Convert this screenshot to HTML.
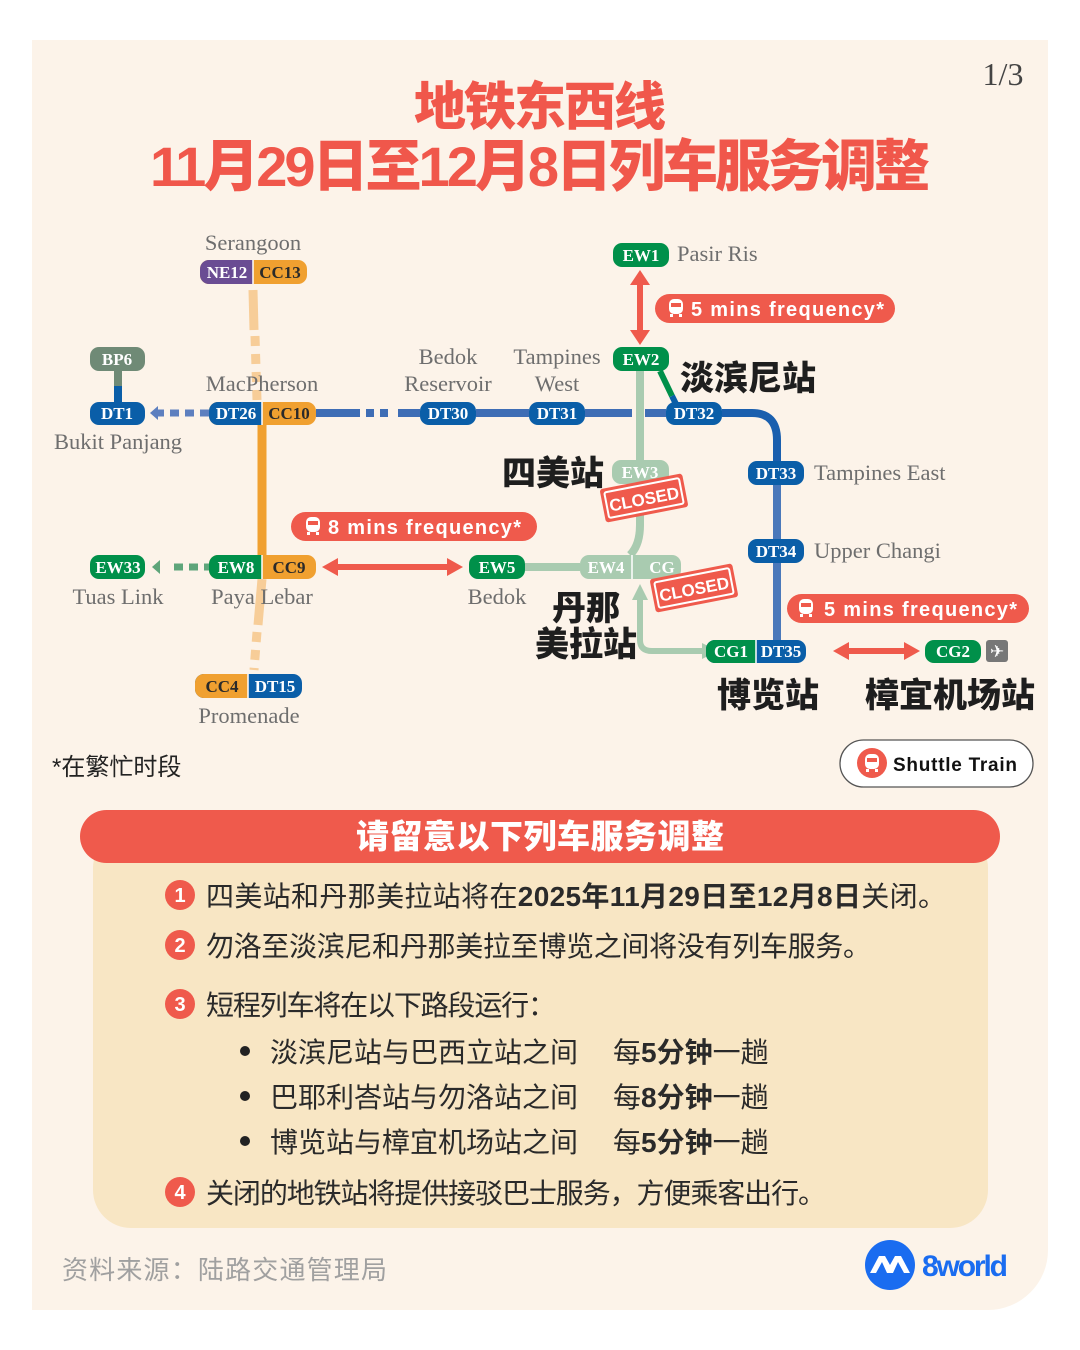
<!DOCTYPE html>
<html><head><meta charset="utf-8"><style>
html,body{margin:0;padding:0;background:#fff}
svg{display:block}
.cn{font-family:"Liberation Sans","Noto Sans CJK SC",sans-serif}
.sr{font-family:"Liberation Serif","DejaVu Serif",serif}
.b{font-family:"Liberation Serif",serif;font-weight:bold;font-size:17px;fill:#fff;text-anchor:middle}
.nm{font-family:"Liberation Serif",serif;font-size:22.5px;fill:#6e6e6e}
</style></head><body>
<svg width="1080" height="1350" viewBox="0 0 1080 1350" xmlns="http://www.w3.org/2000/svg">
<path d="M32 40 H1048 V1250 A60 60 0 0 1 988 1310 H32 Z" fill="#fcf3e9"/>
<text x="1003" y="85" class="sr" font-size="32" fill="#444" text-anchor="middle" font-weight="normal">1/3</text>
<g class="cn" font-weight="900" fill="#f0574b" text-anchor="middle">
<text x="540" y="125" font-size="52" textLength="252">地铁东西线</text>
<text x="540" y="186" font-size="56" textLength="780">11月29日至12月8日列车服务调整</text>
</g>

<g fill="none" stroke-linecap="butt">
<path d="M253 290 L254 330" stroke="#f7cd98" stroke-width="9"/>
<path d="M255 336 L257 400" stroke="#f7cd98" stroke-width="9" stroke-dasharray="10 8"/>
<path d="M262 425 L262 555" stroke="#f0a030" stroke-width="9"/>
<path d="M262 579 L258 625" stroke="#f7cd98" stroke-width="9"/>
<path d="M257 632 L254 670" stroke="#f7cd98" stroke-width="9" stroke-dasharray="10 8"/>
<line x1="118" y1="371" x2="118" y2="386" stroke="#6f8a76" stroke-width="8"/>
<line x1="118" y1="386" x2="118" y2="402" stroke="#0a5ea8" stroke-width="8"/>
<path d="M155 413 L209 413" stroke="#5d7fbf" stroke-width="7" stroke-dasharray="9 6"/>
<path d="M316 413 L360 413" stroke="#3e6db5" stroke-width="8"/>
<path d="M366 413 L394 413" stroke="#3e6db5" stroke-width="8" stroke-dasharray="8 6"/>
<path d="M398 413 L420 413 M476 413 L529 413 M585 413 L632 413 M645 413 L666 413" stroke="#3e6db5" stroke-width="8"/>
<path d="M722 413 L752 413 Q777 413 777 440 L777 461" stroke="#1a5fae" stroke-width="8"/>
<path d="M777 485 L777 539 M777 563 L777 640" stroke="#4a78ba" stroke-width="8"/>
<path d="M660 371 L672 396" stroke="#00904a" stroke-width="6"/>
<path d="M672 396 L676 404" stroke="#0a5ea8" stroke-width="6"/>
<path d="M640 371 L640 460 M640 484 L640 525 Q640 545 630 555" stroke="#a9cbb0" stroke-width="8"/>
<path d="M525 567 L580 567" stroke="#a9cbb0" stroke-width="8"/>
<path d="M640 600 L640 640 Q640 651 652 651 L705 651" stroke="#a9cbb0" stroke-width="6"/>
<path d="M174 567 L209 567" stroke="#5ea57a" stroke-width="7" stroke-dasharray="9 6"/>
</g>
<polygon points="640,584 632,600 648,600" fill="#a9cbb0"/>
<polygon points="718,651 702,643 702,659" fill="#a9cbb0"/>
<polygon points="150,413 158,406 158,420" fill="#5d7fbf"/>
<polygon points="152,567 160,560 160,574" fill="#5ea57a"/>
<g fill="#ef5a4c" stroke="none">
<rect x="637" y="282" width="6" height="52"/>
<polygon points="640,270 630,285 650,285"/><polygon points="640,345 630,330 650,330"/>
<rect x="335" y="564" width="116" height="6"/>
<polygon points="322,567 338,558 338,576"/><polygon points="463,567 447,558 447,576"/>
<rect x="845" y="648" width="62" height="6"/>
<polygon points="833,651 849,642 849,660"/><polygon points="920,651 904,642 904,660"/>
</g>

<g>
<rect x="200" y="260" width="107" height="24" rx="9" fill="#f0a030"/><path d="M209 260 H253 V284 H209 A9 9 0 0 1 200 275 V269 A9 9 0 0 1 209 260Z" fill="#6a4c93"/>
<line x1="253" y1="260" x2="253" y2="284" stroke="#fff" stroke-width="1.5"/>
<text x="227" y="278" class="b">NE12</text><text x="280" y="278" class="b" style="fill:#2a2a2a">CC13</text>
<rect x="90" y="347" width="55" height="24" rx="9" fill="#6f8a76"/><text x="117" y="365" class="b">BP6</text>
<rect x="90" y="402" width="55" height="23" rx="9" fill="#0a5ea8"/><text x="117" y="419" class="b">DT1</text>
<rect x="209" y="402" width="107" height="23" rx="9" fill="#f0a030"/><path d="M218 402 H262 V425 H218 A9 9 0 0 1 209 416 V411 A9 9 0 0 1 218 402Z" fill="#0a5ea8"/>
<line x1="262" y1="402" x2="262" y2="425" stroke="#fff" stroke-width="1.5"/>
<text x="236" y="419" class="b">DT26</text><text x="289" y="419" class="b" style="fill:#2a2a2a">CC10</text>
<rect x="420" y="402" width="56" height="23" rx="9" fill="#0a5ea8"/><text x="448" y="419" class="b">DT30</text>
<rect x="529" y="402" width="56" height="23" rx="9" fill="#0a5ea8"/><text x="557" y="419" class="b">DT31</text>
<rect x="666" y="402" width="56" height="23" rx="9" fill="#0a5ea8"/><text x="694" y="419" class="b">DT32</text>
<rect x="613" y="243" width="56" height="24" rx="9" fill="#00904a"/><text x="641" y="261" class="b">EW1</text>
<rect x="613" y="347" width="56" height="24" rx="9" fill="#00904a"/><text x="641" y="365" class="b">EW2</text>
<rect x="612" y="460" width="57" height="24" rx="9" fill="#a9cbb0"/><text x="640" y="478" class="b">EW3</text>
<rect x="748" y="461" width="56" height="24" rx="9" fill="#0a5ea8"/><text x="776" y="479" class="b">DT33</text>
<rect x="748" y="539" width="56" height="24" rx="9" fill="#0a5ea8"/><text x="776" y="557" class="b">DT34</text>
<rect x="90" y="555" width="55" height="24" rx="9" fill="#00904a"/><text x="118" y="573" class="b">EW33</text>
<rect x="209" y="555" width="107" height="24" rx="9" fill="#f0a030"/><path d="M218 555 H262 V579 H218 A9 9 0 0 1 209 570 V564 A9 9 0 0 1 218 555Z" fill="#00904a"/>
<line x1="262" y1="555" x2="262" y2="579" stroke="#fff" stroke-width="1.5"/>
<text x="236" y="573" class="b">EW8</text><text x="289" y="573" class="b" style="fill:#2a2a2a">CC9</text>
<rect x="469" y="555" width="56" height="24" rx="9" fill="#00904a"/><text x="497" y="573" class="b">EW5</text>
<rect x="580" y="555" width="101" height="24" rx="9" fill="#a9cbb0"/><line x1="632" y1="555" x2="632" y2="579" stroke="#fff" stroke-width="1.5"/>
<text x="606" y="573" class="b">EW4</text><text x="662" y="573" class="b">CG</text>
<rect x="706" y="640" width="100" height="23" rx="9" fill="#0a5ea8"/><path d="M715 640 H756 V663 H715 A9 9 0 0 1 706 654 V649 A9 9 0 0 1 715 640Z" fill="#00904a"/>
<line x1="756" y1="640" x2="756" y2="663" stroke="#fff" stroke-width="1.5"/>
<text x="731" y="657" class="b">CG1</text><text x="781" y="657" class="b">DT35</text>
<rect x="925" y="640" width="56" height="23" rx="9" fill="#00904a"/><text x="953" y="657" class="b">CG2</text>
<rect x="986" y="640" width="22" height="22" rx="3" fill="#777"/><text x="997" y="657" font-size="17" fill="#fff" text-anchor="middle" font-family="DejaVu Sans">✈</text>
<rect x="195" y="674" width="107" height="24" rx="9" fill="#0a5ea8"/><path d="M204 674 H248 V698 H204 A9 9 0 0 1 195 689 V683 A9 9 0 0 1 204 674Z" fill="#f0a030"/>
<line x1="248" y1="674" x2="248" y2="698" stroke="#fff" stroke-width="1.5"/>
<text x="222" y="692" class="b" style="fill:#2a2a2a">CC4</text><text x="275" y="692" class="b">DT15</text>
</g>

<g class="nm">
<text x="253" y="250" text-anchor="middle">Serangoon</text>
<text x="262" y="391" text-anchor="middle">MacPherson</text>
<text x="118" y="449" text-anchor="middle">Bukit Panjang</text>
<text x="448" y="364" text-anchor="middle">Bedok</text>
<text x="448" y="391" text-anchor="middle">Reservoir</text>
<text x="557" y="364" text-anchor="middle">Tampines</text>
<text x="557" y="391" text-anchor="middle">West</text>
<text x="677" y="261">Pasir Ris</text>
<text x="814" y="480">Tampines East</text>
<text x="814" y="558">Upper Changi</text>
<text x="118" y="604" text-anchor="middle">Tuas Link</text>
<text x="262" y="604" text-anchor="middle">Paya Lebar</text>
<text x="497" y="604" text-anchor="middle">Bedok</text>
<text x="249" y="723" text-anchor="middle">Promenade</text>
</g>

<g class="cn" font-weight="900" fill="#1e1e1e" font-size="34">
<text x="680" y="390">淡滨尼站</text>
<text x="502" y="485">四美站</text>
<text x="552" y="620">丹那</text>
<text x="535" y="656">美拉站</text>
<text x="717" y="707">博览站</text>
<text x="865" y="707">樟宜机场站</text>
</g>

<g class="cn" font-weight="bold" font-size="20" fill="#fff">
<rect x="655" y="294" width="240" height="29" rx="14.5" fill="#ef5a4c"/>
<text x="691" y="316" textLength="193">5 mins frequency*</text>
<rect x="291" y="512" width="246" height="29" rx="14.5" fill="#ef5a4c"/>
<text x="328" y="534" textLength="193">8 mins frequency*</text>
<rect x="787" y="594" width="242" height="29" rx="14.5" fill="#ef5a4c"/>
<text x="824" y="616" textLength="193">5 mins frequency*</text>
</g>
<g fill="#fff">
<g transform="translate(676,308)"><rect x="-7" y="-9" width="14" height="15" rx="5"/><rect x="-5" y="-5" width="10" height="4" fill="#ef5a4c"/><rect x="-6" y="6" width="3" height="3"/><rect x="3" y="6" width="3" height="3"/></g>
<g transform="translate(313,526)"><rect x="-7" y="-9" width="14" height="15" rx="5"/><rect x="-5" y="-5" width="10" height="4" fill="#ef5a4c"/><rect x="-6" y="6" width="3" height="3"/><rect x="3" y="6" width="3" height="3"/></g>
<g transform="translate(806,608)"><rect x="-7" y="-9" width="14" height="15" rx="5"/><rect x="-5" y="-5" width="10" height="4" fill="#ef5a4c"/><rect x="-6" y="6" width="3" height="3"/><rect x="3" y="6" width="3" height="3"/></g>
</g>

<g transform="translate(644,498) rotate(-11)">
<rect x="-42" y="-17" width="84" height="34" rx="3" fill="#ef5a4c"/>
<rect x="-38" y="-13" width="76" height="26" rx="2" fill="none" stroke="#fff" stroke-width="2"/>
<text x="0" y="7" text-anchor="middle" font-family="Liberation Sans,sans-serif" font-weight="bold" font-size="17" fill="#fff">CLOSED</text>
</g>
<g transform="translate(694,588) rotate(-11)">
<rect x="-42" y="-17" width="84" height="34" rx="3" fill="#ef5a4c"/>
<rect x="-38" y="-13" width="76" height="26" rx="2" fill="none" stroke="#fff" stroke-width="2"/>
<text x="0" y="7" text-anchor="middle" font-family="Liberation Sans,sans-serif" font-weight="bold" font-size="17" fill="#fff">CLOSED</text>
</g>

<text x="52" y="775" class="cn" font-size="24" fill="#222">*在繁忙时段</text>
<rect x="840" y="740" width="193" height="47" rx="23.5" fill="#fff" stroke="#555" stroke-width="1.3"/>
<circle cx="872" cy="763" r="15" fill="#ef5a4c"/>
<g transform="translate(872,763)" fill="#fff"><rect x="-7" y="-9" width="14" height="15" rx="5"/><rect x="-5" y="-5" width="10" height="4" fill="#ef5a4c"/><rect x="-6" y="6" width="3" height="3"/><rect x="3" y="6" width="3" height="3"/></g>
<text x="893" y="771" font-family="Liberation Sans,sans-serif" font-weight="bold" font-size="19" fill="#111" textLength="124">Shuttle Train</text>

<rect x="93" y="830" width="895" height="398" rx="38" fill="#f8e6c4"/>
<rect x="80" y="810" width="920" height="53" rx="26.5" fill="#ef5a4c"/>
<text x="540" y="848" class="cn" font-weight="900" font-size="33" fill="#fff" text-anchor="middle" textLength="368">请留意以下列车服务调整</text>

<g fill="#ef5a4c"><circle cx="180" cy="895" r="15"/><circle cx="180" cy="945" r="15"/><circle cx="180" cy="1004" r="15"/><circle cx="180" cy="1192" r="15"/></g>
<g font-family="Liberation Sans,sans-serif" font-weight="bold" font-size="20" fill="#fff" text-anchor="middle">
<text x="180" y="902">1</text><text x="180" y="952">2</text><text x="180" y="1011">3</text><text x="180" y="1199">4</text></g>
<g class="cn" font-size="28" fill="#2a2a2a">
<text x="206" y="906" textLength="740">四美站和丹那美拉站将在<tspan font-weight="bold">2025年11月29日至12月8日</tspan>关闭。</text>
<text x="206" y="956" textLength="665">勿洛至淡滨尼和丹那美拉至博览之间将没有列车服务。</text>
<text x="206" y="1015" textLength="350">短程列车将在以下路段运行：</text>
<text x="270" y="1062" textLength="308">淡滨尼站与巴西立站之间</text>
<text x="270" y="1107" textLength="308">巴耶利峇站与勿洛站之间</text>
<text x="270" y="1152" textLength="308">博览站与樟宜机场站之间</text>
<text x="613" y="1062">每<tspan font-weight="bold">5分钟</tspan>一趟</text>
<text x="613" y="1107">每<tspan font-weight="bold">8分钟</tspan>一趟</text>
<text x="613" y="1152">每<tspan font-weight="bold">5分钟</tspan>一趟</text>
<text x="206" y="1203" textLength="620">关闭的地铁站将提供接驳巴士服务，方便乘客出行。</text>
</g>
<g fill="#222"><circle cx="245" cy="1051" r="5"/><circle cx="245" cy="1096" r="5"/><circle cx="245" cy="1141" r="5"/></g>

<text x="62" y="1279" class="cn" font-size="26" fill="#a0a0a0" textLength="325">资料来源：陆路交通管理局</text>
<circle cx="890" cy="1265" r="25" fill="#1a6cf0"/>
<path d="M870 1273 L879 1256 L885 1256 L890 1265 L895 1256 L901 1256 L910 1273 L904 1273 L898 1262 L893 1273 L887 1273 L882 1262 L876 1273Z" fill="#fff"/>
<text x="922" y="1276" font-family="Liberation Sans,sans-serif" font-weight="bold" font-size="30" fill="#1a6cf0" textLength="86">8world</text>
</svg>
</body></html>
